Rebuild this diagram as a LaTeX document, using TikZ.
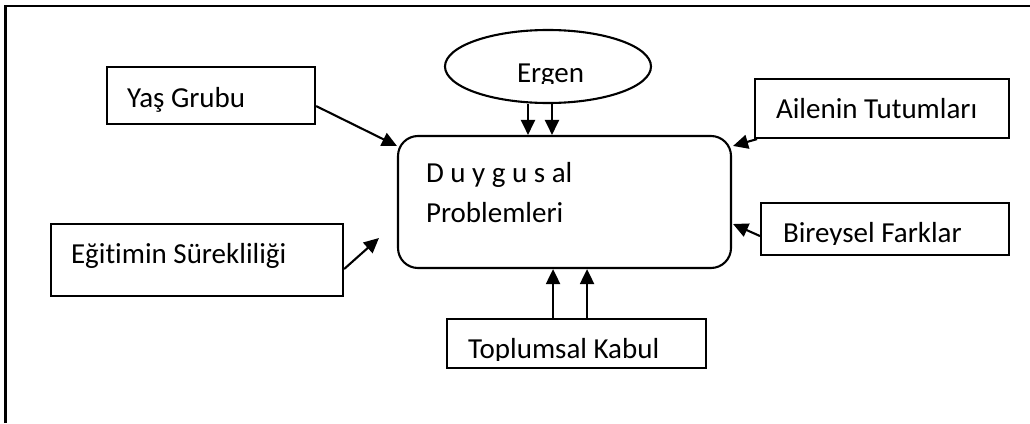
\documentclass[tikz,border=0pt]{standalone}
\usepackage{fontspec}
\setmainfont{Carlito}[Ligatures=NoCommon]
\usetikzlibrary{arrows.meta,calc,shapes.geometric}

\begin{document}
\begin{tikzpicture}[x=1pt,y=-1pt,line width=2.1pt]
  \tikzset{factorbox/.style={draw,rectangle,inner sep=0pt,anchor=north west},
    flow/.style={-{Triangle[length=15pt,width=14pt]}},
    lbl/.style={font=\fontsize{29}{29}\selectfont,inner sep=0pt,anchor=base west}}
  \useasboundingbox (0,0) rectangle (1030,423);
  \coordinate (frameBL) at (5.5,423);
  \coordinate (frameTL) at (5.5,6);
  \coordinate (frameTR) at (1030,6);
  \draw (frameBL) -- (frameTL) -- (frameTR);
  \node[draw,ellipse,inner sep=0pt,minimum width=206pt,minimum height=73pt] (ergen) at (548,66.5) {};
  \node[draw,rounded corners=20pt,inner sep=0pt,minimum width=333pt,minimum height=132pt] (duygu) at (564.5,202) {};
  \node[factorbox,minimum width=208pt,minimum height=57pt] (yas) at (106,66) {};
  \node[factorbox,minimum width=254pt,minimum height=59pt] (aile) at (754,78) {};
  \node[factorbox,minimum width=248pt,minimum height=52pt] (bireysel) at (760,202) {};
  \node[factorbox,minimum width=292pt,minimum height=72pt] (egitim) at (50,223) {};
  \node[factorbox,minimum width=259pt,minimum height=49pt] (toplum) at (446,318) {};
  \node[lbl] (duygutext) at (425,182) {D u y g u s al};
  \node[lbl] (problemtext) at (425,222) {Problemleri};
  \node[lbl] (yastext) at (126,107) {Yaş Grubu};
  \node[lbl] (ailetext) at (775,118) {Ailenin Tutumları};
  \node[lbl] (egitimtext) at (70,263) {Eğitimin Sürekliliği};
  \begin{scope}
    \clip (ergen.west |- ergen.north) rectangle ([yshift=21pt]ergen.south -| ergen.east);
    \node[lbl,anchor=base] (ergentext) at (550.5,82) {Ergen};
  \end{scope}
  \begin{scope}
    \clip (bireysel.north west) rectangle ([yshift=12pt]bireysel.south east);
    \node[lbl] (bireyseltext) at (782,242) {Bireysel Farklar};
  \end{scope}
  \begin{scope}
    \clip (toplum.north west) rectangle ([yshift=9pt]toplum.south east);
    \node[lbl] (toplumtext) at (467,358) {Toplumsal Kabul};
  \end{scope}
  \coordinate (ergenL) at ($(ergen.south)+(-20,0)$);
  \coordinate (ergenR) at ($(ergen.south)+(4,0)$);
  \coordinate (toplumL) at ($(toplum.north)+(-23.5,0)$);
  \coordinate (toplumR) at ($(toplum.north)+(10.5,0)$);
  \draw[flow] (ergenL) -- (ergenL |- duygu.north);
  \draw[flow] (ergenR) -- (ergenR |- duygu.north);
  \draw[flow] (toplumL) -- (toplumL |- duygu.south);
  \draw[flow] (toplumR) -- (toplumR |- duygu.south);
  \draw[flow] ($(yas.east)+(0,10.5)$) -- ($(duygu.north west)+(0,11)$);
  \draw[flow] ($(egitim.east)+(0,9)$) -- ($(duygu.west)+(-18,36)$);
  \draw[flow] ($(aile.south west)+(3,0)$) -- ($(duygu.north east)+(1,11)$);
  \draw[flow] ($(bireysel.west)+(0,7)$) -- ($(duygu.east)+(1,22)$);
\end{tikzpicture}
\end{document}
